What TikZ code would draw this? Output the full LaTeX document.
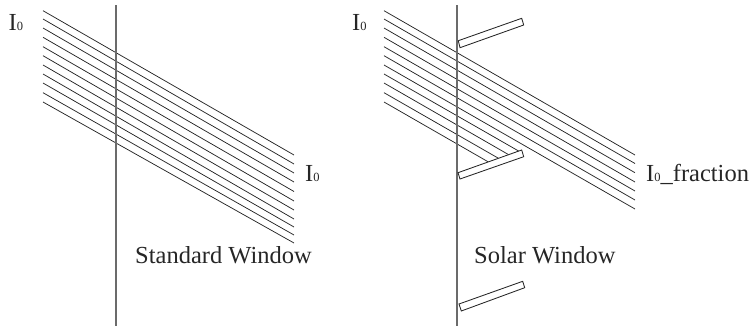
\documentclass[tikz,border=0pt]{standalone}
\usepackage{fontspec}
\setmainfont{Liberation Serif}
\usetikzlibrary{calc}
\definecolor{rayc}{gray}{0.15}
\definecolor{wallc}{gray}{0.42}
\tikzset{
  x=1pt,y=-1pt,
  ray/.style={draw=rayc,line width=0.75pt},
  wall/.style={draw=wallc,line width=1.1pt},
  slab/.style={draw=rayc,line width=0.85pt,fill=white,line join=miter},
  lab/.style={inner sep=0pt,anchor=base west,text=black!85,font=\fontsize{24.5}{26}\selectfont},
}
\newcommand{\nought}{{\fontsize{12.5}{12.5}\selectfont 0}}
\begin{document}
\begin{tikzpicture}
\useasboundingbox (0,0) rectangle (750,330);
% left rays
\foreach \i/\ys/\ye in {1/10.7/155,2/19/164,3/28/173,4/37.3/182,5/46.7/191.5,6/55.7/201,7/65/210,8/74/219,9/83/227,10/92.7/235,11/102/243}{
  \coordinate (la\i) at (43,\ys);
  \coordinate (lb\i) at (294,\ye);
  \draw[ray] (la\i) -- (lb\i);
}
% right rays through to the end
\foreach \i/\ys/\ye in {1/10.7/155,2/19/163.5,3/28/172.7,4/37.3/182,5/46.7/191,6/55.7/200,7/65/209}{
  \coordinate (ra\i) at (384,\ys);
  \coordinate (rb\i) at (635,\ye);
  \draw[ray] (ra\i) -- (rb\i);
}
% right rays stopped by lower slab
\foreach \i/\ys/\xe/\ye in {8/74/518.6/151,9/83/508.7/154.7,10/92.7/498.3/158.2,11/102/488.3/161.9}{
  \coordinate (ra\i) at (384,\ys);
  \coordinate (rb\i) at (\xe,\ye);
  \draw[ray] (ra\i) -- (rb\i);
}
% walls
\coordinate (wl1) at (116,5);
\coordinate (wl2) at (116,326);
\coordinate (wr1) at (457,5);
\coordinate (wr2) at (457,326);
\draw[wall] (wl1) -- (wl2);
\draw[wall] (wr1) -- (wr2);
% slabs
\draw[slab] (458.3,40.7) -- (521.7,18.3) -- (523.7,25) -- (460,47.7) -- cycle;
\draw[slab] (458,172.7) -- (521.7,150) -- (523.7,156.7) -- (460,179) -- cycle;
\draw[slab] (459,304) -- (522.7,281.3) -- (524.7,287.7) -- (461.3,311) -- cycle;
% labels
\node[lab] (i0l) at (8.5,30.5) {I\nought};
\node[lab] (i0r) at (352,30.5) {I\nought};
\node[lab] (i0m) at (305,181) {I\nought};
\node[lab] (i0f) at (646,181) {I\nought\_fraction};
\node[lab] (std) at (135,263) {Standard Window};
\node[lab] (sol) at (474,263) {Solar Window};
\end{tikzpicture}
\end{document}
